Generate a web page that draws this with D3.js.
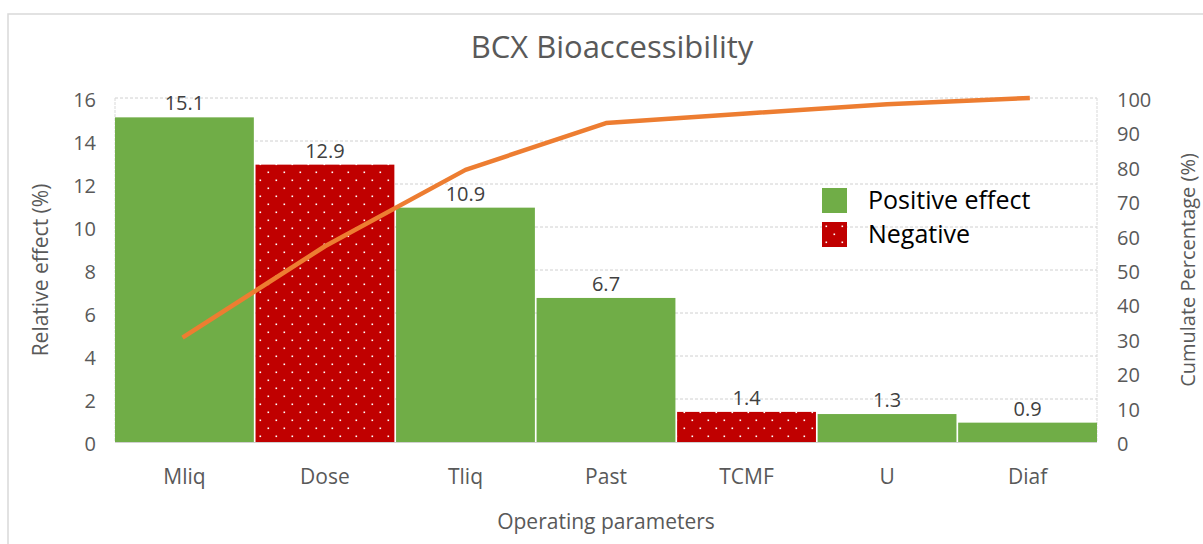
<!DOCTYPE html>
<html>
<head>
<meta charset="utf-8">
<script src="https://cdn.jsdelivr.net/npm/d3@7/dist/d3.min.js"></script>
<style>
  html, body { margin: 0; padding: 0; background: #fff; }
  svg { display: block; font-family: "Open Sans", sans-serif; }
</style>
</head>
<body>
<svg id="chart" width="1203" height="544"></svg>
<script>
// ---- data ----
const categories = ["Mliq", "Dose", "Tliq", "Past", "TCMF", "U", "Diaf"];
const relativeEffect = [15.1, 12.9, 10.9, 6.7, 1.4, 1.3, 0.9];
const effectSign = ["pos", "neg", "pos", "pos", "neg", "pos", "pos"];
const cumulativePct = [30.7, 56.9, 79.1, 92.7, 95.5, 98.2, 100];
const leftTicks = [0, 2, 4, 6, 8, 10, 12, 14, 16];
const rightTicks = [0, 10, 20, 30, 40, 50, 60, 70, 80, 90, 100];
const legendItems = [
  { key: "pos", label: "Positive effect" },
  { key: "neg", label: "Negative" }
];
const titleText = "BCX Bioaccessibility";
const xTitle = "Operating parameters";
const yLeftTitle = "Relative effect (%)";
const yRightTitle = "Cumulate Percentage (%)";

// ---- layout ----
const W = 1203, H = 544;
const plot = { left: 115, right: 1097, top: 98, bottom: 442 };
const svg = d3.select("#chart");

const defs = svg.append("defs");
const pat = defs.append("pattern")
  .attr("id", "dots").attr("patternUnits", "userSpaceOnUse")
  .attr("width", 16).attr("height", 16);
pat.append("rect").attr("width", 16).attr("height", 16).attr("fill", "#C00000");
pat.append("rect").attr("x", 3.5).attr("y", 3.5).attr("width", 1.6).attr("height", 1.6).attr("fill", "#fff");
pat.append("rect").attr("x", 11.5).attr("y", 11.5).attr("width", 1.6).attr("height", 1.6).attr("fill", "#fff");

const fillFor = k => k === "pos" ? "#70AD47" : "url(#dots)";

// chart frame
svg.append("rect").attr("x", 8).attr("y", 14).attr("width", 1400).attr("height", 800)
  .attr("fill", "none").attr("stroke", "#d9d9d9").attr("stroke-width", 1.5);

const x = d3.scaleBand().domain(categories).range([plot.left, plot.right])
  .paddingInner(0.012).paddingOuter(0);
const y = d3.scaleLinear().domain([0, 16]).range([plot.bottom, plot.top]);
const y2 = d3.scaleLinear().domain([0, 100]).range([plot.bottom, plot.top]);

// gridlines
svg.append("g").selectAll("line").data(leftTicks.filter(d => d > 0)).join("line")
  .attr("x1", plot.left).attr("x2", plot.right)
  .attr("y1", d => y(d)).attr("y2", d => y(d))
  .attr("stroke", "#d0d0d0").attr("stroke-width", 1).attr("stroke-dasharray", "3,2");
// plot side borders
[plot.left, plot.right].forEach(px => {
  svg.append("line").attr("x1", px).attr("x2", px).attr("y1", plot.top).attr("y2", plot.bottom)
    .attr("stroke", "#d9d9d9").attr("stroke-width", 1).attr("stroke-dasharray", "3,1");
});

// left axis
const gL = svg.append("g").attr("transform", `translate(${plot.left - 19},0)`)
  .call(d3.axisLeft(y).tickValues(leftTicks).tickSize(0).tickPadding(0));
gL.select(".domain").remove();
gL.selectAll("text").attr("fill", "#595959").style("font-size", "20px")
  .style("font-family", "'Open Sans', sans-serif").attr("dy", "0.42em");

// right axis
const gR = svg.append("g").attr("transform", `translate(${plot.right + 20},0)`)
  .call(d3.axisRight(y2).tickValues(rightTicks).tickSize(0).tickPadding(0));
gR.select(".domain").remove();
gR.selectAll("text").attr("fill", "#595959").style("font-size", "20px")
  .style("font-family", "'Open Sans', sans-serif").attr("dy", "0.42em");

// bars
const data = categories.map((c, i) => ({ c, v: relativeEffect[i], s: effectSign[i], cum: cumulativePct[i] }));
svg.append("g").selectAll("rect").data(data).join("rect")
  .attr("x", d => x(d.c)).attr("width", x.bandwidth())
  .attr("y", d => y(d.v)).attr("height", d => y(0) - y(d.v))
  .attr("fill", d => fillFor(d.s));

// baseline
svg.append("line").attr("x1", plot.left).attr("x2", plot.right)
  .attr("y1", y(0) + 0.5).attr("y2", y(0) + 0.5)
  .attr("stroke", "#d0d0d0").attr("stroke-width", 1.2);

// value labels
svg.append("g").selectAll("text").data(data).join("text")
  .attr("x", d => x(d.c) + x.bandwidth() / 2).attr("y", d => y(d.v) - 7)
  .attr("text-anchor", "middle").attr("fill", "#404040").style("font-size", "20px")
  .text(d => d.v.toFixed(1));

// cumulative line
const line = d3.line().x(d => x(d.c) + x.bandwidth() / 2).y(d => y2(d.cum));
svg.append("path").datum(data).attr("d", line)
  .attr("fill", "none").attr("stroke", "#ED7D31").attr("stroke-width", 4.5)
  .attr("stroke-linejoin", "round").attr("stroke-linecap", "square");

// x axis labels
const gX = svg.append("g").attr("transform", `translate(0,${plot.bottom})`)
  .call(d3.axisBottom(x).tickSize(0).tickPadding(0));
gX.select(".domain").remove();
gX.selectAll("text").attr("fill", "#595959").style("font-size", "21px")
  .style("font-family", "'Open Sans', sans-serif").attr("y", 42).attr("dy", 0);

// titles
svg.append("text").attr("x", 612).attr("y", 58).attr("text-anchor", "middle")
  .attr("fill", "#595959").style("font-size", "31px").text(titleText);
svg.append("text").attr("x", (plot.left + plot.right) / 2).attr("y", 529).attr("text-anchor", "middle")
  .attr("fill", "#595959").style("font-size", "21px").text(xTitle);
svg.append("text").attr("transform", `translate(48,${(plot.top + plot.bottom) / 2}) rotate(-90)`)
  .attr("text-anchor", "middle").attr("fill", "#595959").style("font-size", "21px").text(yLeftTitle);
svg.append("text").attr("transform", `translate(1195,${(plot.top + plot.bottom) / 2}) rotate(-90)`)
  .attr("text-anchor", "middle").attr("fill", "#595959").style("font-size", "20px").text(yRightTitle);

// legend
const lg = svg.append("g").attr("transform", "translate(822,188)");
const li = lg.selectAll("g").data(legendItems).join("g")
  .attr("transform", (d, i) => `translate(0,${i * 34})`);
li.append("rect").attr("width", 25).attr("height", 25).attr("fill", d => fillFor(d.key));
li.append("text").attr("x", 46).attr("y", 21).attr("fill", "#000").style("font-size", "25px")
  .text(d => d.label);
</script>
</body>
</html>
